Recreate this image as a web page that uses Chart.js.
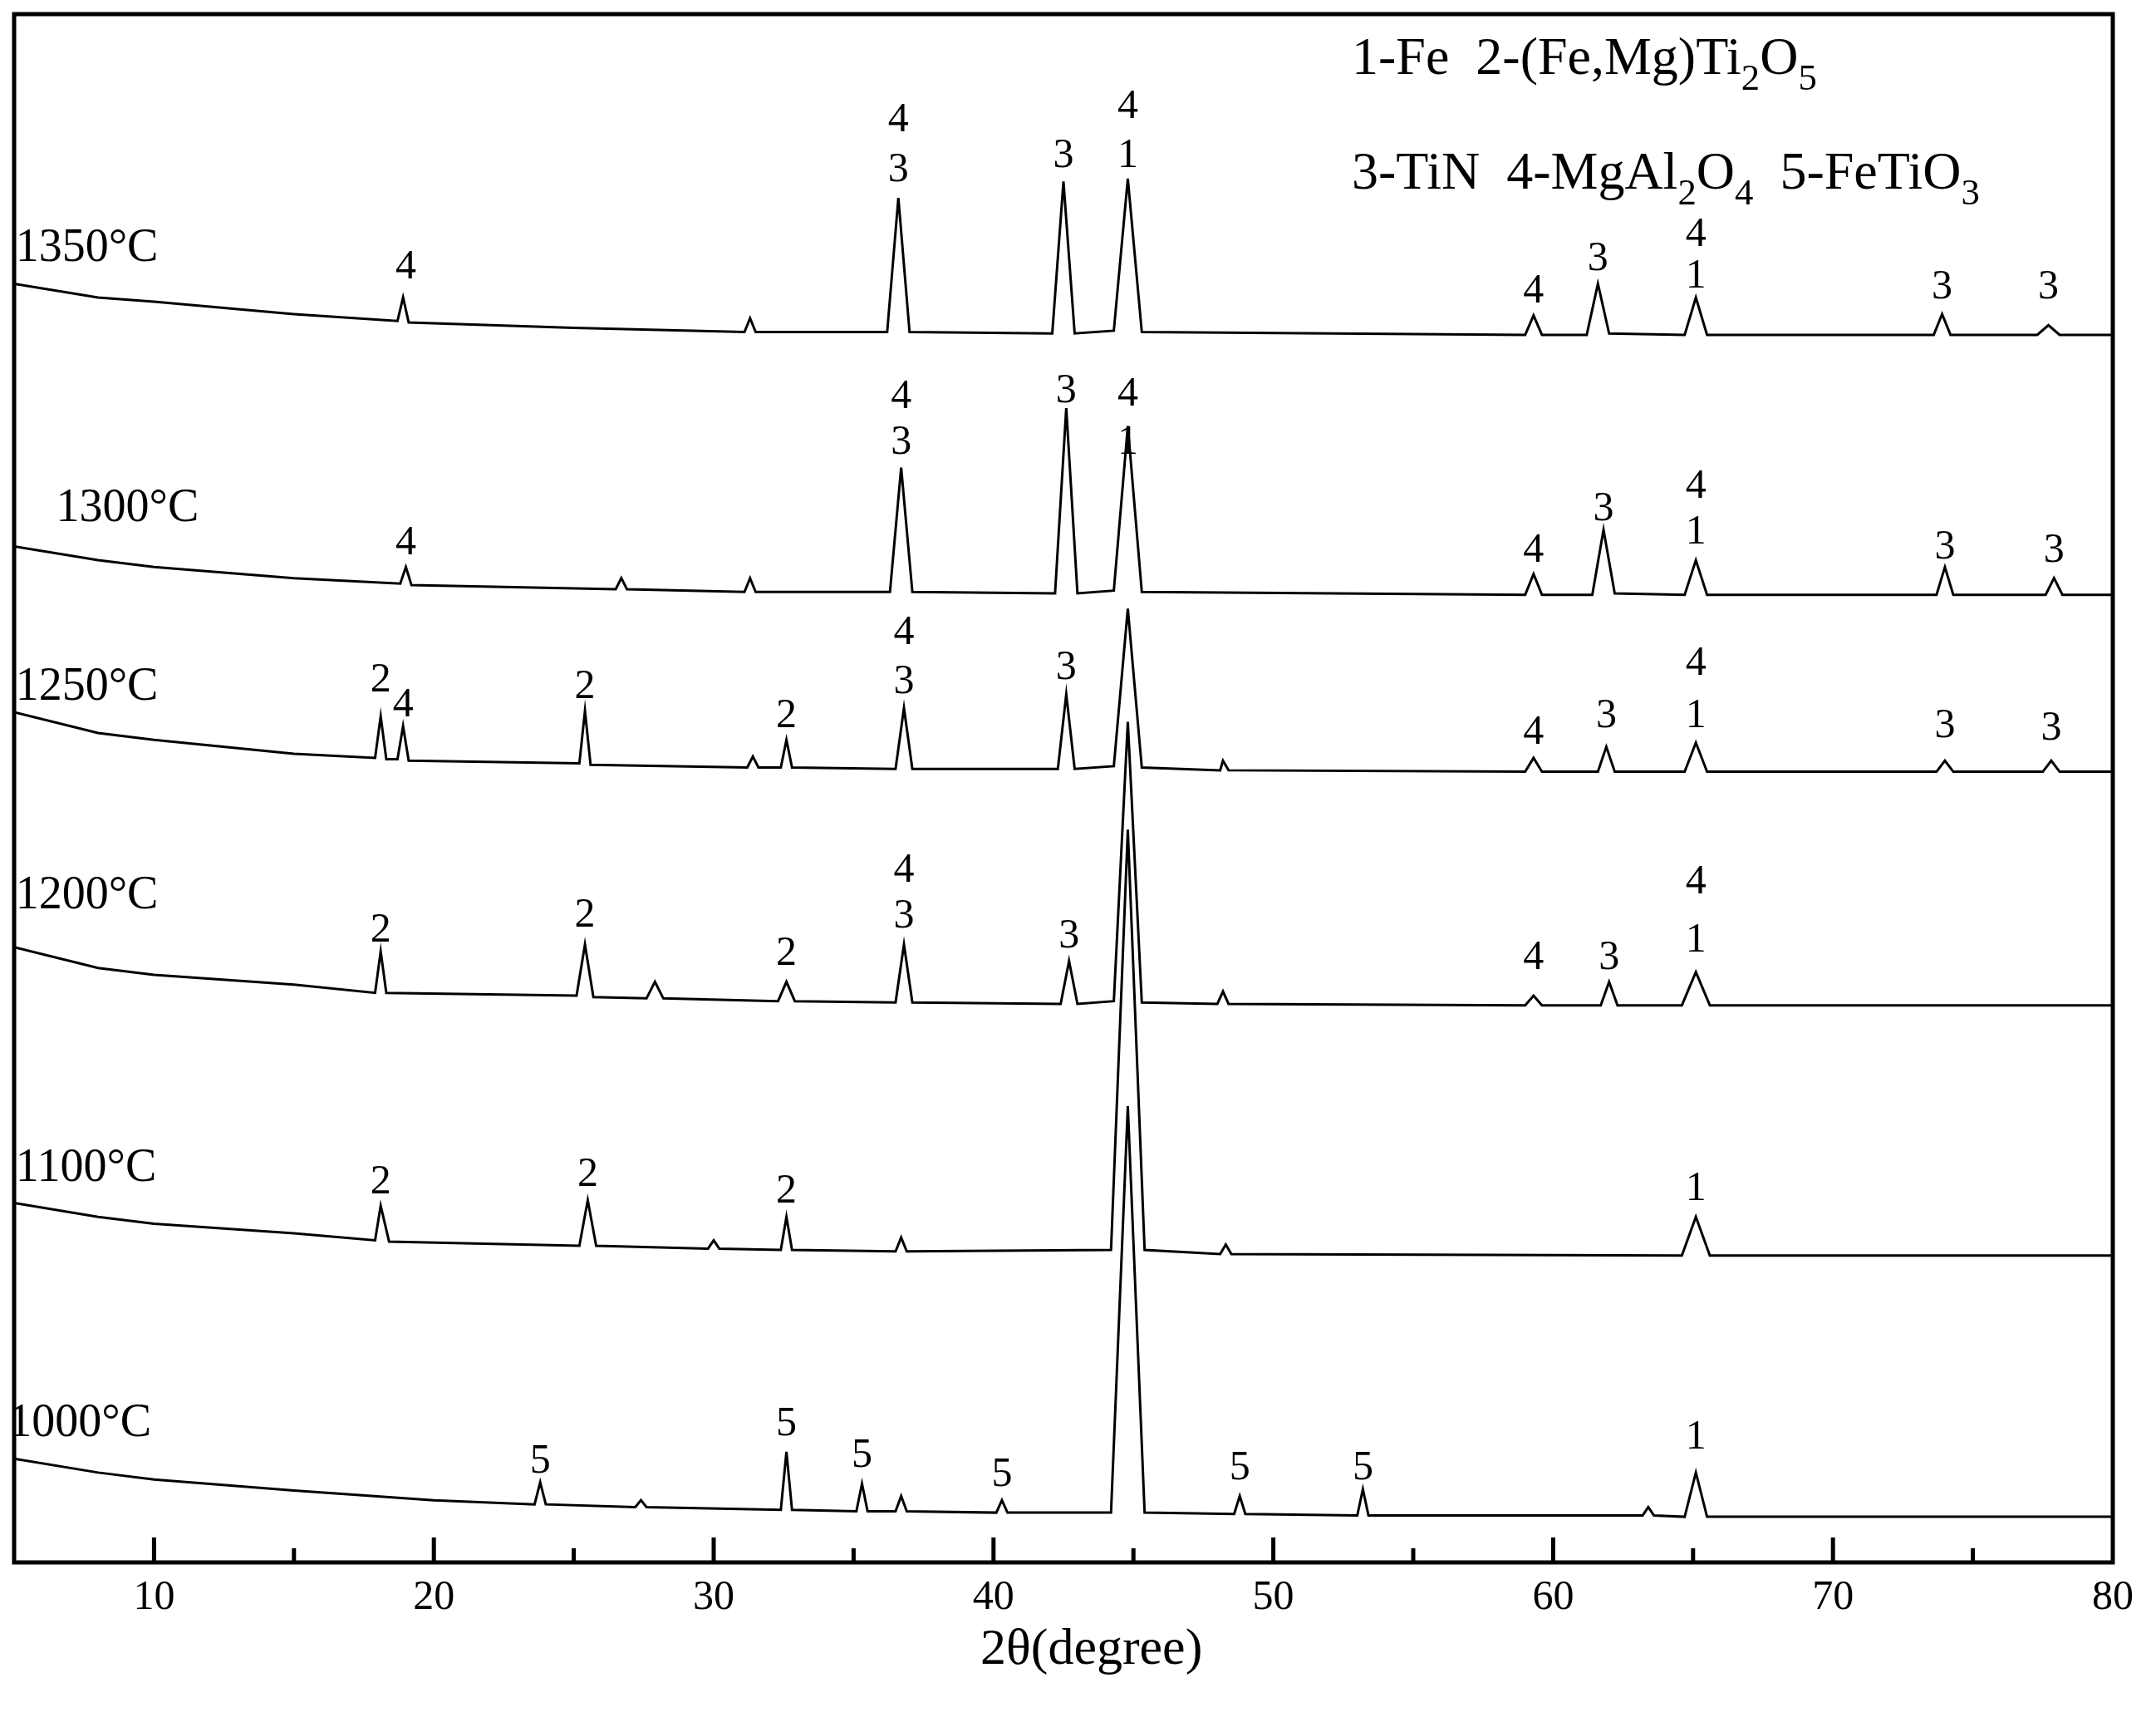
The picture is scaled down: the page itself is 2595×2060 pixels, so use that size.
<!DOCTYPE html>
<html>
<head>
<meta charset="utf-8">
<script src="https://cdn.jsdelivr.net/npm/chart.js@4/dist/chart.umd.min.js"></script>
<style>
  body { margin: 0; background: #fff; }
  #wrap { width: 2595px; height: 2060px; }
</style>
</head>
<body>
<div id="wrap"><canvas id="xrd" width="2595" height="2060"></canvas></div>
<script>
// intensities are stacked offsets (arbitrary units), x = 2theta
const temps = ['1350°C', '1300°C', '1250°C', '1200°C', '1100°C', '1000°C'];

const s1350 = [[5,925],[8,915],[10,912],[15,903],[18.7,898],[18.9,915],[19.1,897],[25,893],[31.1,890],[31.3,900],[31.5,890],[36.2,890],[36.6,987],[37.0,890],[42.1,889],[42.5,999],[42.9,889],[44.3,891],[44.8,1001],[45.3,890],[59.0,888],[59.3,902],[59.6,888],[61.2,888],[61.6,925],[62.0,889],[64.7,888],[65.1,915],[65.5,888],[73.6,888],[73.9,903],[74.2,888],[77.3,888],[77.7,895],[78.1,888],[80,888]];
const s1300 = [[5,735],[8,725],[10,720],[15,712],[18.8,708],[19,720],[19.2,707],[26.5,704],[26.7,712],[26.9,704],[31.1,702],[31.3,712],[31.5,702],[36.3,702],[36.7,792],[37.1,702],[42.2,701],[42.6,835],[43.0,701],[44.3,703],[44.8,822],[45.3,702],[59.0,700],[59.3,715],[59.6,700],[61.4,700],[61.8,747],[62.2,701],[64.7,700],[65.1,725],[65.5,700],[73.7,700],[74,720],[74.3,700],[77.6,700],[77.9,712],[78.2,700],[80,700]];
const s1250 = [[5,615],[8,600],[10,595],[15,585],[17.9,582],[18.1,612],[18.3,581],[18.7,581],[18.9,605],[19.1,580],[25.2,578],[25.4,616],[25.6,577],[31.2,575],[31.4,583],[31.6,575],[32.4,575],[32.6,595],[32.8,575],[36.5,574],[36.8,618],[37.1,574],[42.3,574],[42.6,628],[42.9,574],[44.3,576],[44.8,690],[45.3,575],[48.1,573],[48.2,580],[48.4,573],[59.0,572],[59.3,582],[59.6,572],[61.6,572],[61.9,590],[62.2,572],[64.7,572],[65.1,593],[65.5,572],[73.7,572],[74,580],[74.3,572],[77.5,572],[77.8,580],[78.1,572],[80,572]];
const s1200 = [[5,445],[8,430],[10,425],[15,418],[17.9,412],[18.1,442],[18.3,412],[25.1,410],[25.4,447],[25.7,409],[27.6,408],[27.9,420],[28.2,408],[32.3,406],[32.6,420],[32.9,406],[36.5,405],[36.8,447],[37.1,405],[42.4,404],[42.7,435],[43.0,404],[44.3,406],[44.8,608],[45.3,405],[48.0,404],[48.2,413],[48.4,404],[59.0,403],[59.3,410],[59.6,403],[61.7,403],[62,420],[62.3,403],[64.6,403],[65.1,427],[65.6,403],[80,403]];
const s1100 = [[5,260],[8,250],[10,245],[15,238],[17.9,233],[18.1,258],[18.4,232],[25.2,229],[25.5,262],[25.8,229],[29.8,227],[30,233],[30.2,227],[32.4,226],[32.6,250],[32.8,226],[36.5,225],[36.7,235],[36.9,225],[44.2,226],[44.8,530],[45.4,226],[48.1,223],[48.3,230],[48.5,223],[64.6,222],[65.1,250],[65.6,222],[80,222]];
const s1000 = [[5,75],[8,65],[10,60],[15,52],[20,45],[23.6,42],[23.8,58],[24.0,42],[27.2,40],[27.4,45],[27.6,40],[32.4,38],[32.6,80],[32.8,38],[35.1,37],[35.3,57],[35.5,37],[36.5,37],[36.7,48],[36.9,37],[40.1,36],[40.3,45],[40.5,36],[44.2,36],[44.8,330],[45.4,36],[48.6,35],[48.8,48],[49.0,35],[53.0,34],[53.2,53],[53.4,34],[63.2,34],[63.4,40],[63.6,34],[64.7,33],[65.1,65],[65.5,33],[80,33]];
const seriesData = [s1350, s1300, s1250, s1200, s1100, s1000];

const tempX = [5.05, 6.5, 5.05, 5.05, 5.05, 4.8];
const tempY = [950, 762, 633, 482, 285, 100];

// peak index labels: [2theta, height, text]
const peakX = [19,36.6,36.6,42.5,44.8,44.8,59.3,61.6,65.1,65.1,73.9,77.7,
  19,36.7,36.7,42.6,44.8,44.8,59.3,61.8,65.1,65.1,74,77.9,
  18.1,18.9,25.4,32.6,36.8,36.8,42.6,59.3,61.9,65.1,65.1,74,77.8,
  18.1,25.4,32.6,36.8,36.8,42.7,59.3,62,65.1,65.1,
  18.1,25.5,32.6,65.1,
  23.8,32.6,35.3,40.3,48.8,53.2,65.1];
const peakY = [937,1043,1007,1017,1053,1017,919,943,960,930,922,922,
  737,843,810,847,845,810,732,762,778,745,734,732,
  638,620,633,612,672,637,647,600,612,650,612,605,603,
  457,468,440,500,467,453,437,437,492,450,
  275,280,268,270,
  73,100,77,63,68,68,90];
const peakText = ['4','4','3','3','4','1','4','3','4','1','3','3',
  '4','4','3','3','4','1','4','3','4','1','3','3',
  '2','4','2','2','4','3','3','4','3','4','1','3','3',
  '2','2','2','4','3','3','4','3','4','1',
  '2','2','2','1',
  '5','5','5','5','5','5','1'];

const FONT = '"Liberation Serif", "DejaVu Serif", serif';

function drawRich(ctx, x, y, parts, size) {
    // parts: [text, isSub]
    parts.forEach(p => {
        if (p[1]) {
            ctx.font = (size * 0.7) + 'px ' + FONT;
            ctx.fillText(p[0], x, y + size * 0.38);
        } else {
            ctx.font = size + 'px ' + FONT;
            ctx.fillText(p[0], x, y);
        }
        x += ctx.measureText(p[0]).width;
    });
}

const decor = {
    id: 'decor',
    afterDraw(chart) {
        const ctx = chart.ctx;
        const a = chart.chartArea;
        const sx = chart.scales.x, sy = chart.scales.y;
        ctx.save();
        ctx.strokeStyle = '#000';
        ctx.fillStyle = '#000';
        ctx.lineWidth = 5;
        ctx.strokeRect(a.left, a.top, a.right - a.left, a.bottom - a.top);
        // inward ticks
        for (let v = 10; v < 80; v += 5) {
            const px = sx.getPixelForValue(v);
            ctx.beginPath();
            ctx.moveTo(px, a.bottom);
            ctx.lineTo(px, a.bottom - (v % 10 === 0 ? 30 : 17));
            ctx.stroke();
        }
        ctx.textAlign = 'center';
        ctx.textBaseline = 'top';
        ctx.font = '50px ' + FONT;
        for (let v = 10; v <= 80; v += 10) {
            ctx.fillText(String(v), sx.getPixelForValue(v), a.bottom + 18);
        }
        ctx.font = '62px ' + FONT;
        ctx.fillText('2θ(degree)', sx.getPixelForValue(43.5), a.bottom + 75);

        ctx.textBaseline = 'middle';
        ctx.font = '50px ' + FONT;
        for (let i = 0; i < peakX.length; i++) {
            ctx.fillText(peakText[i], sx.getPixelForValue(peakX[i]), sy.getPixelForValue(peakY[i]));
        }
        ctx.textAlign = 'left';
        ctx.font = '56px ' + FONT;
        for (let i = 0; i < temps.length; i++) {
            ctx.fillText(temps[i], sx.getPixelForValue(tempX[i]), sy.getPixelForValue(tempY[i]));
        }
        drawRich(ctx, 1627, 72, [['1-Fe  2-(Fe,Mg)Ti', 0], ['2', 1], ['O', 0], ['5', 1]], 64);
        drawRich(ctx, 1627, 210, [['3-TiN  4-MgAl', 0], ['2', 1], ['O', 0], ['4', 1], ['  5-FeTiO', 0], ['3', 1]], 64);
        ctx.restore();
    }
};

new Chart(document.getElementById('xrd'), {
    type: 'line',
    data: {
        datasets: seriesData.map((d, i) => ({
            label: temps[i],
            data: d.map(p => ({ x: p[0], y: p[1] })),
            borderColor: '#000',
            borderWidth: 3,
            pointRadius: 0,
            tension: 0
        }))
    },
    options: {
        responsive: false,
        animation: false,
        devicePixelRatio: 1,
        layout: { padding: { left: 17, top: 17, right: 52, bottom: 180 } },
        plugins: { legend: { display: false }, tooltip: { enabled: false } },
        scales: {
            x: { type: 'linear', min: 5, max: 80, display: false },
            y: { min: 0, max: 1120, display: false }
        }
    },
    plugins: [decor]
});
</script>
</body>
</html>
